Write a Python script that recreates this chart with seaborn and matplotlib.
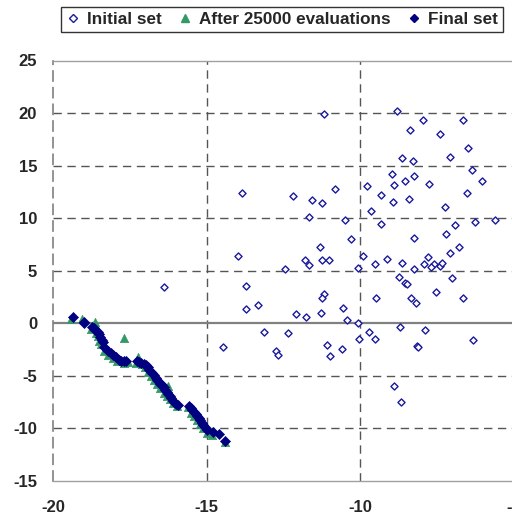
import matplotlib
matplotlib.use("Agg")
import matplotlib.pyplot as plt
import seaborn as sns
from matplotlib.lines import Line2D

# ---------------- data ----------------
init_x = [-11.16, -13.83, -12.19, -11.56, -11.23, -10.82, -11.67, -10.49, -10.30, -11.30,
          -13.97, -11.79, -11.23, -11.00, -11.67, -12.45, -13.70, -11.18, -11.23, -13.71,
          -13.31, -12.08, -11.75, -11.27, -10.56, -10.42, -13.12, -12.35, -14.46, -12.73,
          -12.68, -11.09, -10.97, -10.60, -16.38,
          -8.79, -7.95, -6.64, -8.36, -7.40, -6.47, -8.62, -8.28, -7.07, -6.35,
          -8.96, -8.24, -8.88, -8.54, -7.76, -6.02, -9.76, -9.33, -8.93, -8.39,
          -6.50, -7.24, -9.63, -9.33, -6.90, -6.24, -5.61, -7.21, -8.24, -6.77,
          -7.07, -9.89, -9.13, -7.80, -9.51, -8.62, -7.92, -7.60, -7.40, -7.32,
          -7.68, -10.07, -8.24, -8.74, -8.52, -8.47, -7.01, -9.48, -8.33, -8.17,
          -7.53, -6.64, -10.05, -8.70, -7.87, -9.70, -10.02, -9.51, -6.32, -8.13,
          -8.10, -8.88, -8.66]
init_y = [19.90, 12.43, 12.10, 11.70, 11.45, 12.80, 10.15, 9.84, 8.00, 7.27,
          6.39, 6.07, 6.04, 6.04, 5.50, 5.18, 3.54, 2.83, 2.45, 1.38,
          1.70, 0.84, 0.62, 0.97, 1.50, 0.33, -0.78, -0.90, -2.30, -2.61,
          -3.00, -2.10, -3.15, -2.42, 3.47,
          20.23, 19.37, 19.37, 18.42, 17.98, 16.68, 15.70, 15.48, 15.83, 14.60,
          14.18, 14.05, 13.19, 13.55, 13.29, 13.55, 13.07, 12.21, 11.58, 11.80,
          12.43, 11.04, 10.72, 9.49, 9.39, 9.62, 9.84, 8.54, 8.10, 7.24,
          6.70, 6.39, 6.13, 6.29, 5.63, 5.72, 5.63, 5.63, 5.47, 5.72,
          5.40, 5.28, 5.18, 4.42, 3.82, 3.78, 4.30, 2.45, 2.45, 1.95,
          3.00, 2.45, 0.00, -0.36, -0.59, -0.81, -1.45, -1.45, -1.54, -2.20,
          -2.30, -5.97, -7.53]

mid_x = [-19.40, -19.07, -18.63, -18.75, -18.60, -18.55, -18.50, -18.45, -18.35, -18.20,
         -18.05, -17.90, -17.70, -17.69, -17.55, -17.22, -17.30, -17.10, -17.00, -16.90,
         -16.80, -16.70, -16.60, -16.25, -16.50, -16.40, -16.30, -16.20, -16.10, -15.95,
         -15.60, -15.50, -15.40, -15.30, -15.20, -15.10, -15.00, -14.83, -14.40]
mid_y = [0.45, 0.45, 0.10, -0.50, -0.90, -1.20, -1.70, -2.00, -2.60, -3.00,
         -3.30, -3.55, -3.75, -1.41, -3.70, -3.20, -3.75, -3.90, -4.20, -4.60,
         -5.00, -5.40, -5.80, -5.94, -6.20, -6.60, -6.90, -7.20, -7.60, -7.90,
         -8.00, -8.50, -8.80, -9.20, -9.60, -10.00, -10.40, -10.60, -11.30]

fin_x = [-19.34, -19.00, -18.98, -18.72, -18.68, -18.62, -18.55, -18.50, -18.46, -18.42,
         -18.38, -18.33, -18.20, -18.12, -18.04, -17.95, -17.85, -17.78, -17.70, -17.62,
         -17.27, -17.20, -17.12, -17.05, -16.98, -16.92, -16.87, -16.82, -16.76, -16.70,
         -16.65, -16.60, -16.55, -16.50, -16.45, -16.40, -16.35, -16.30, -16.25, -16.20,
         -16.15, -16.10, -16.05, -15.98, -15.92, -15.57, -15.52, -15.46, -15.40, -15.35,
         -15.30, -15.25, -15.20, -15.15, -15.10, -15.05, -14.99, -14.78, -14.58, -14.39]
fin_y = [0.59, 0.10, 0.05, -0.35, -0.45, -0.60, -0.80, -1.05, -1.30, -1.55,
         -1.80, -2.30, -2.65, -2.80, -3.05, -3.25, -3.50, -3.60, -3.62, -3.62,
         -3.60, -3.65, -3.75, -3.85, -4.00, -4.20, -4.40, -4.60, -4.75, -4.95,
         -5.20, -5.40, -5.60, -5.75, -5.90, -6.10, -6.30, -6.55, -6.75, -6.95,
         -7.15, -7.35, -7.50, -7.70, -7.80, -7.85, -8.05, -8.25, -8.45, -8.60,
         -8.80, -9.00, -9.20, -9.45, -9.70, -9.90, -10.15, -10.30, -10.55, -11.24]

labels = ["Initial set", "After 25000 evaluations", "Final set"]
x_ticks = [-20, -15, -10, -5]
y_ticks = [-15, -10, -5, 0, 5, 10, 15, 20, 25]

# ---------------- style ----------------
sns.set_theme(style="white")
plt.rcParams['font.family'] = ['Liberation Sans', 'DejaVu Sans']
plt.rcParams['font.weight'] = 'bold'

NAVY = "#000080"
OPEN = "#1a1a9c"
GREEN = "#339966"

fig = plt.figure(figsize=(5.12, 5.22), dpi=100)
ax = fig.add_axes([53/512, 41/522, 460.5/512, 420.5/522])

# grid
for gx in x_ticks[1:]:
    ax.axvline(gx, color="#555555", lw=1.0, ls=(0, (6, 4)), zorder=1)
for gy in y_ticks[1:-1]:
    if gy == 0:
        ax.axhline(gy, color="#808080", lw=1.6, zorder=1)
    else:
        ax.axhline(gy, color="#555555", lw=1.0, ls=(0, (6, 4)), zorder=1)

sns.scatterplot(x=init_x, y=init_y, ax=ax, marker="D", s=13, color="white",
                edgecolor=OPEN, linewidth=1.0, zorder=3)
sns.scatterplot(x=mid_x, y=mid_y, ax=ax, marker="^", s=36, color=GREEN,
                edgecolor=GREEN, linewidth=0.5, zorder=4)
sns.scatterplot(x=fin_x, y=fin_y, ax=ax, marker="D", s=26, color=NAVY,
                edgecolor=NAVY, linewidth=0.5, zorder=5)

ax.set_xlim(-20, -5)
ax.set_ylim(-15, 25)
ax.set_xticks(x_ticks)
ax.set_yticks(y_ticks)
ax.set_xticklabels([str(v) for v in x_ticks], fontsize=12, fontweight="bold")
ax.set_yticklabels([str(v) for v in y_ticks], fontsize=12, fontweight="bold")
ax.tick_params(axis="x", length=0, pad=13.5)
ax.tick_params(axis="y", length=4, direction="in", pad=11.5, color="#808080")

for side in ["top", "bottom"]:
    ax.spines[side].set_color("#a0a0a0")
    ax.spines[side].set_linewidth(1.0)
ax.spines["right"].set_visible(False)
ax.spines["left"].set_color("#808080")
ax.spines["left"].set_linewidth(1.2)
ax.spines["left"].set_linestyle((0, (6, 4)))

handles = [
    Line2D([], [], ls="none", marker="D", ms=4, mfc="white", mec=OPEN, mew=1.0),
    Line2D([], [], ls="none", marker="^", ms=6, mfc=GREEN, mec=GREEN),
    Line2D([], [], ls="none", marker="D", ms=4, mfc=NAVY, mec=NAVY),
]
leg = fig.legend(handles, labels, loc="center", bbox_to_anchor=(282/512, 1 - 19.5/522),
                 ncol=3, frameon=True, fancybox=False, edgecolor="black",
                 prop={"weight": "bold", "size": 12.3}, handlelength=0.8,
                 handletextpad=0.4, columnspacing=1.0, borderpad=0.3)
leg.get_frame().set_linewidth(1.0)

fig.savefig("out.png", dpi=100)
